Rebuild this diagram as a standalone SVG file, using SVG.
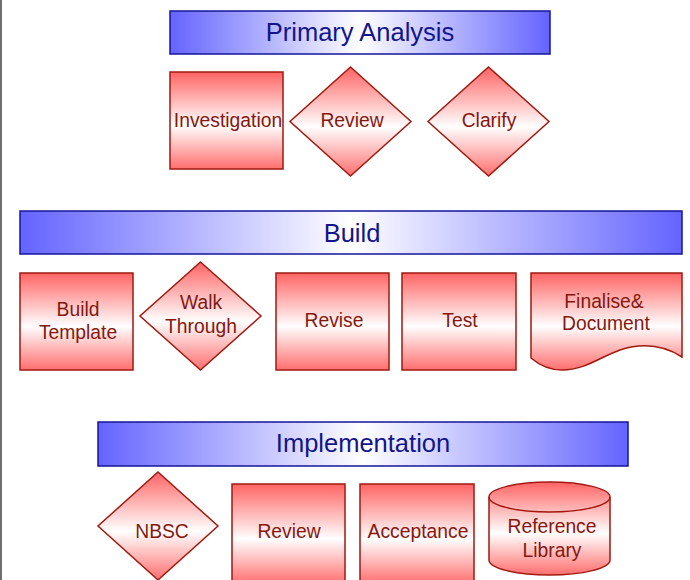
<svg xmlns="http://www.w3.org/2000/svg" width="690" height="580" viewBox="0 0 690 580">
<defs>
<linearGradient id="red" x1="0" y1="0" x2="0" y2="1">
<stop offset="0" stop-color="#ff6464"/>
<stop offset="0.55" stop-color="#ffffff"/>
<stop offset="1" stop-color="#ff6e6e"/>
</linearGradient>
<linearGradient id="blue" x1="0" y1="0" x2="1" y2="0">
<stop offset="0" stop-color="#6464ff"/>
<stop offset="0.5" stop-color="#ffffff"/>
<stop offset="1" stop-color="#6464ff"/>
</linearGradient>
<style>
.hdr{fill:url(#blue);stroke:#14149a;stroke-width:1.5}
.hdrt{font-family:"Liberation Sans",Arial,sans-serif;font-size:25.5px;fill:#14148c;text-anchor:middle}
.box{fill:url(#red);stroke:#a01a10;stroke-width:1.5}
.lbl{font-family:"Liberation Sans",Arial,sans-serif;font-size:19.3px;fill:#841810;text-anchor:middle}
</style>
</defs>
<rect x="0" y="0" width="690" height="580" fill="#ffffff"/>
<rect x="0" y="0" width="2" height="580" fill="#6e6e6e"/>

<g id="hdr-primary"><rect class="hdr" x="170" y="11" width="380" height="43"/><text class="hdrt" x="360" y="41">Primary Analysis</text></g>
<g id="investigation"><rect class="box" x="170" y="72" width="113" height="97"/><text class="lbl" x="228" y="127">Investigation</text></g>
<g id="review1"><polygon class="box" points="350.5,67 411,121.5 350.5,176 290,121.5"/><text class="lbl" x="352" y="127">Review</text></g>
<g id="clarify"><polygon class="box" points="488.5,67 549,121.5 488.5,176 428,121.5"/><text class="lbl" x="489" y="127">Clarify</text></g>

<g id="hdr-build"><rect class="hdr" x="20" y="211" width="662" height="43"/><text class="hdrt" x="352" y="242">Build</text></g>
<g id="build-template"><rect class="box" x="20" y="273" width="113" height="97"/><text class="lbl" x="78" y="316">Build</text><text class="lbl" x="78" y="339">Template</text></g>
<g id="walk-through"><polygon class="box" points="200.5,262 261,316 200.5,370 140,316"/><text class="lbl" x="201" y="309">Walk</text><text class="lbl" x="201" y="333">Through</text></g>
<g id="revise"><rect class="box" x="276" y="273" width="113" height="97"/><text class="lbl" x="334" y="327">Revise</text></g>
<g id="test"><rect class="box" x="402" y="273" width="114" height="97"/><text class="lbl" x="460" y="327">Test</text></g>
<g id="finalise"><path class="box" d="M531,273 H682 V357 C665,346 645,342 620,350 C600,357 585,370 562,370 C548,370 538,364 531,358 Z"/><text class="lbl" x="604" y="308">Finalise&amp;</text><text class="lbl" x="606" y="330">Document</text></g>

<g id="hdr-impl"><rect class="hdr" x="98" y="422" width="530" height="44"/><text class="hdrt" x="363" y="452">Implementation</text></g>
<g id="nbsc"><polygon class="box" points="158,472 218,526 158,580 98,526"/><text class="lbl" x="162" y="538">NBSC</text></g>
<g id="review2"><rect class="box" x="232" y="484" width="113" height="100"/><text class="lbl" x="289" y="538">Review</text></g>
<g id="acceptance"><rect class="box" x="360" y="484" width="114" height="100"/><text class="lbl" x="418" y="538">Acceptance</text></g>
<g id="reference-library"><path class="box" d="M489,497 A60.5,15 0 0 1 610,497 V560 A60.5,15 0 0 1 489,560 Z"/><path d="M489,497 A60.5,15 0 0 0 610,497" fill="none" stroke="#a01a10" stroke-width="1.5"/><text class="lbl" x="552" y="533">Reference</text><text class="lbl" x="552" y="557">Library</text></g>

<g id="connectors"></g>
</svg>
